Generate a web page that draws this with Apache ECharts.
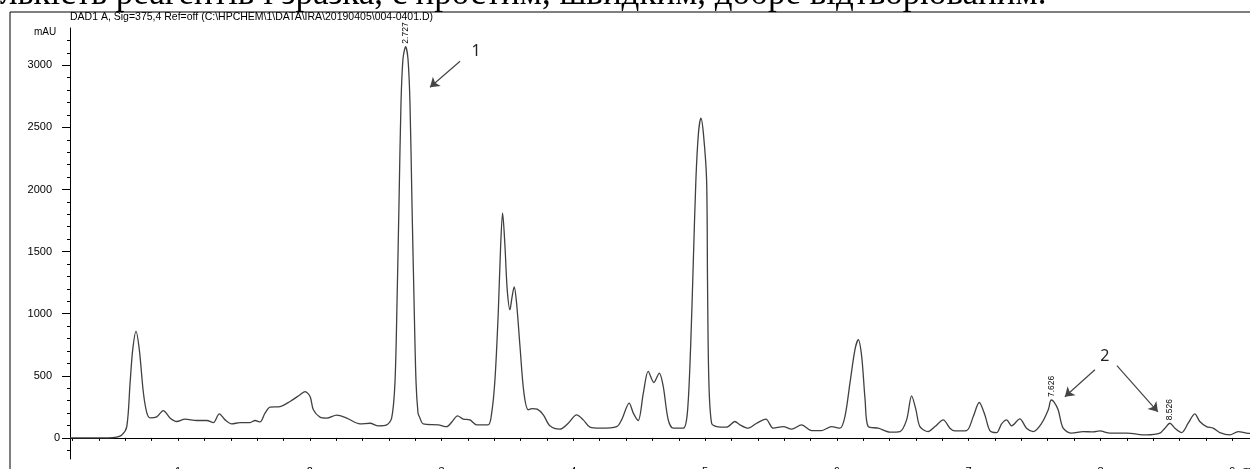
<!DOCTYPE html>
<html>
<head>
<meta charset="utf-8">
<script src="https://cdn.jsdelivr.net/npm/echarts@6/dist/echarts.min.js"></script>
<style>
  html, body { margin: 0; padding: 0; background: #fff; }
  #chart { width: 1250px; height: 469px; }
</style>
</head>
<body>
<div id="chart"></div>
<script>
// Retention time (min) of each traced point
const retentionTimes = [
  0.181, 0.469, 0.522, 0.573, 0.611, 0.636, 0.656, 0.681, 0.706, 0.737,
  0.763, 0.788, 0.838, 0.888, 0.939, 0.990, 1.053, 1.142, 1.218, 1.268,
  1.313, 1.357, 1.407, 1.470, 1.546, 1.584, 1.622, 1.660, 1.698, 1.774,
  1.850, 1.926, 1.964, 2.002, 2.027, 2.077, 2.128, 2.204, 2.280, 2.381,
  2.457, 2.520, 2.583, 2.621, 2.646, 2.662, 2.677, 2.692, 2.707, 2.727,
  2.745, 2.760, 2.775, 2.791, 2.806, 2.821, 2.831, 2.861, 2.975, 3.039,
  3.079, 3.121, 3.165, 3.215, 3.266, 3.354, 3.380, 3.405, 3.430, 3.448,
  3.463, 3.481, 3.498, 3.519, 3.534, 3.551, 3.569, 3.595, 3.625, 3.658,
  3.686, 3.726, 3.772, 3.822, 3.898, 3.961, 4.025, 4.075, 4.126, 4.202,
  4.329, 4.366, 4.424, 4.455, 4.492, 4.531, 4.568, 4.611, 4.652, 4.682,
  4.720, 4.758, 4.834, 4.865, 4.890, 4.910, 4.930, 4.949, 4.968, 4.987,
  5.011, 5.018, 5.028, 5.049, 5.087, 5.163, 5.226, 5.264, 5.327, 5.391,
  5.461, 5.517, 5.593, 5.656, 5.732, 5.808, 5.884, 5.960, 6.023, 6.061,
  6.099, 6.137, 6.162, 6.188, 6.214, 6.238, 6.314, 6.402, 6.478, 6.529,
  6.567, 6.600, 6.630, 6.693, 6.744, 6.807, 6.858, 6.895, 6.984, 7.035,
  7.080, 7.123, 7.161, 7.212, 7.250, 7.288, 7.326, 7.388, 7.439, 7.490,
  7.554, 7.604, 7.626, 7.647, 7.679, 7.717, 7.781, 7.869, 7.945, 7.996,
  8.072, 8.199, 8.350, 8.451, 8.489, 8.527, 8.565, 8.616, 8.666, 8.716,
  8.754, 8.805, 8.855, 8.906, 8.982, 9.045, 9.109, 9.149
];

// Absorbance (mAU) at those times
const absorbance = [
  0, 0, 4, 24, 91, 443, 710, 857, 710, 363,
  201, 161, 169, 220, 161, 132, 151, 140, 140, 123,
  194, 145, 113, 123, 123, 140, 129, 199, 248, 252,
  293, 347, 373, 333, 226, 167, 159, 183, 159, 113,
  118, 97, 105, 159, 441, 1100, 1900, 2700, 3050, 3150,
  3050, 2700, 1900, 1100, 450, 200, 172, 113, 105, 90,
  130, 177, 151, 145, 105, 105, 199, 468, 1006, 1543,
  1812, 1543, 1194, 1032, 1130, 1215, 1086, 736, 360, 226,
  236, 231, 185, 97, 70, 118, 185, 145, 86, 78,
  91, 145, 280, 199, 140, 360, 535, 446, 522, 414,
  145, 78, 78, 199, 736, 1409, 2081, 2450, 2575, 2450,
  2081, 1274, 468, 118, 91, 86, 132, 105, 78, 118,
  151, 78, 91, 70, 105, 59, 59, 91, 78, 172,
  441, 710, 790, 656, 306, 91, 78, 46, 51, 145,
  339, 226, 91, 51, 91, 145, 78, 56, 59, 172,
  285, 185, 59, 43, 113, 145, 97, 153, 78, 51,
  118, 226, 305, 290, 226, 78, 38, 51, 48, 56,
  38, 38, 24, 38, 78, 118, 78, 43, 118, 194,
  132, 91, 78, 43, 24, 51, 38, 35
];

// Axis ticks and labels
const yLabelValues = [500, 1000, 1500, 2000, 2500, 3000];
const yMajorTicks = [0, 500, 1000, 1500, 2000, 2500, 3000];
const yMinorTicks = [-100, 0, 100, 200, 300, 400, 500, 600, 700, 800, 900, 1000, 1100, 1200,
  1300, 1400, 1500, 1600, 1700, 1800, 1900, 2000, 2100, 2200, 2300, 2400, 2500, 2600, 2700,
  2800, 2900, 3000, 3100, 3200];
const xLabelValues = [1, 2, 3, 4, 5, 6, 7, 8, 9];
const xTickValues = [0.2, 0.4, 0.6, 0.8, 1, 1.2, 1.4, 1.6, 1.8, 2, 2.2, 2.4, 2.6, 2.8, 3,
  3.2, 3.4, 3.6, 3.8, 4, 4.2, 4.4, 4.6, 4.8, 5, 5.2, 5.4, 5.6, 5.8, 6, 6.2, 6.4, 6.6, 6.8, 7,
  7.2, 7.4, 7.6, 7.8, 8, 8.2, 8.4, 8.6, 8.8, 9];

// Integrated peaks with their retention-time labels
const peakTimes = [2.727, 7.626, 8.526];
const peakHeights = [3150, 305, 118];

// Numbered annotations and arrows (start -> tip, in data units)
const noteLabels = ['1', '2'];
const notePositions = [[3.261, 3113], [8.033, 653]];
const arrows = [
  [[3.140, 3032], [2.912, 2823]],
  [[7.958, 548], [7.730, 331]],
  [[8.125, 581], [8.436, 210]]
];

const chart = echarts.init(document.getElementById('chart'));

const sansFont = '"Liberation Sans", Arial, sans-serif';

const option = {
  animation: false,
  backgroundColor: '#fff',
  grid: { left: 70, right: 0, top: 28, bottom: 10, containLabel: false, outerBoundsMode: 'none' },
  xAxis: {
    type: 'value',
    min: 0.18,
    max: 9.135,
    axisLine: { show: true, lineStyle: { color: '#000', width: 1 } },
    axisTick: { show: true, length: 3, customValues: xTickValues, lineStyle: { color: '#000' } },
    axisLabel: {
      customValues: xLabelValues,
      margin: 7,
      color: '#000',
      fontSize: 11,
      fontFamily: sansFont
    },
    splitLine: { show: false }
  },
  yAxis: [
    {
      type: 'value',
      min: -170,
      max: 3300,
      position: 'left',
      axisLine: { show: true, lineStyle: { color: '#000', width: 1 } },
      axisTick: { show: true, length: 8, customValues: yMajorTicks, lineStyle: { color: '#000' } },
      axisLabel: {
        customValues: yLabelValues,
        formatter: v => String(v),
        margin: 18,
        color: '#000',
        fontSize: 11,
        fontFamily: sansFont
      },
      splitLine: { show: false }
    },
    {
      // minor ticks only
      type: 'value',
      min: -170,
      max: 3300,
      position: 'left',
      axisLine: { show: false },
      axisTick: { show: true, length: 3, customValues: yMinorTicks, lineStyle: { color: '#000' } },
      axisLabel: { show: false },
      splitLine: { show: false }
    }
  ],
  graphic: [
    {
      type: 'text',
      left: 0,
      top: -23,
      silent: true,
      style: {
        text: 'лькість реагентів і зразка, є простим, швидким, добре відтворюваним.',
        fontFamily: '"Liberation Serif", "Times New Roman", serif',
        fontSize: 35,
        fill: '#000'
      }
    },
    { type: 'line', silent: true, shape: { x1: 10, y1: 12, x2: 1250, y2: 12 }, style: { stroke: '#000', lineWidth: 1 } },
    { type: 'line', silent: true, shape: { x1: 10, y1: 12, x2: 10, y2: 469 }, style: { stroke: '#000', lineWidth: 1 } },
    {
      type: 'text',
      left: 70,
      top: 12,
      silent: true,
      style: {
        text: 'DAD1 A, Sig=375,4 Ref=off (C:\\HPCHEM\\1\\DATA\\IRA\\20190405\\004-0401.D)',
        fontFamily: sansFont,
        fontSize: 10.5,
        fill: '#000'
      }
    },
    {
      type: 'text',
      left: 34,
      top: 27,
      silent: true,
      style: { text: 'mAU', fontFamily: sansFont, fontSize: 10, fill: '#000' }
    },
    {
      // zero label sits closer to the axis in the original
      type: 'text',
      left: 54,
      top: 432,
      silent: true,
      style: { text: '0', fontFamily: sansFont, fontSize: 11, fill: '#000' }
    },
    {
      type: 'text',
      left: 1243,
      top: 465,
      silent: true,
      style: { text: 'min', fontFamily: sansFont, fontSize: 11, fill: '#000' }
    }
  ],
  series: [
    {
      name: 'DAD1 A',
      type: 'line',
      data: retentionTimes.map((t, i) => [t, absorbance[i]]),
      showSymbol: false,
      smooth: 0.3,
      lineStyle: { color: '#404040', width: 1.3 },
      markPoint: {
        silent: true,
        symbol: 'circle',
        symbolSize: 0,
        data: peakTimes.map((t, i) => ({
          coord: [t, peakHeights[i]],
          label: {
            show: true,
            formatter: String(t.toFixed(3)),
            position: 'top',
            distance: 3,
            rotate: 90,
            align: 'left',
            verticalAlign: 'middle',
            color: '#000',
            fontSize: 8.5,
            fontFamily: sansFont
          }
        })).concat(noteLabels.map((txt, i) => ({
          coord: notePositions[i],
          label: {
            show: true,
            formatter: txt,
            position: 'inside',
            color: '#222',
            fontSize: 16,
            fontFamily: '"Noto Sans", "Open Sans", sans-serif'
          }
        })))
      },
      markLine: {
        silent: true,
        symbol: ['none', 'arrow'],
        symbolSize: 9,
        label: { show: false },
        lineStyle: { color: '#444', width: 1.2, type: 'solid' },
        itemStyle: { color: '#111' },
        data: arrows.map(a => [{ coord: a[0] }, { coord: a[1] }])
      }
    }
  ]
};

chart.setOption(option);
</script>
</body>
</html>
